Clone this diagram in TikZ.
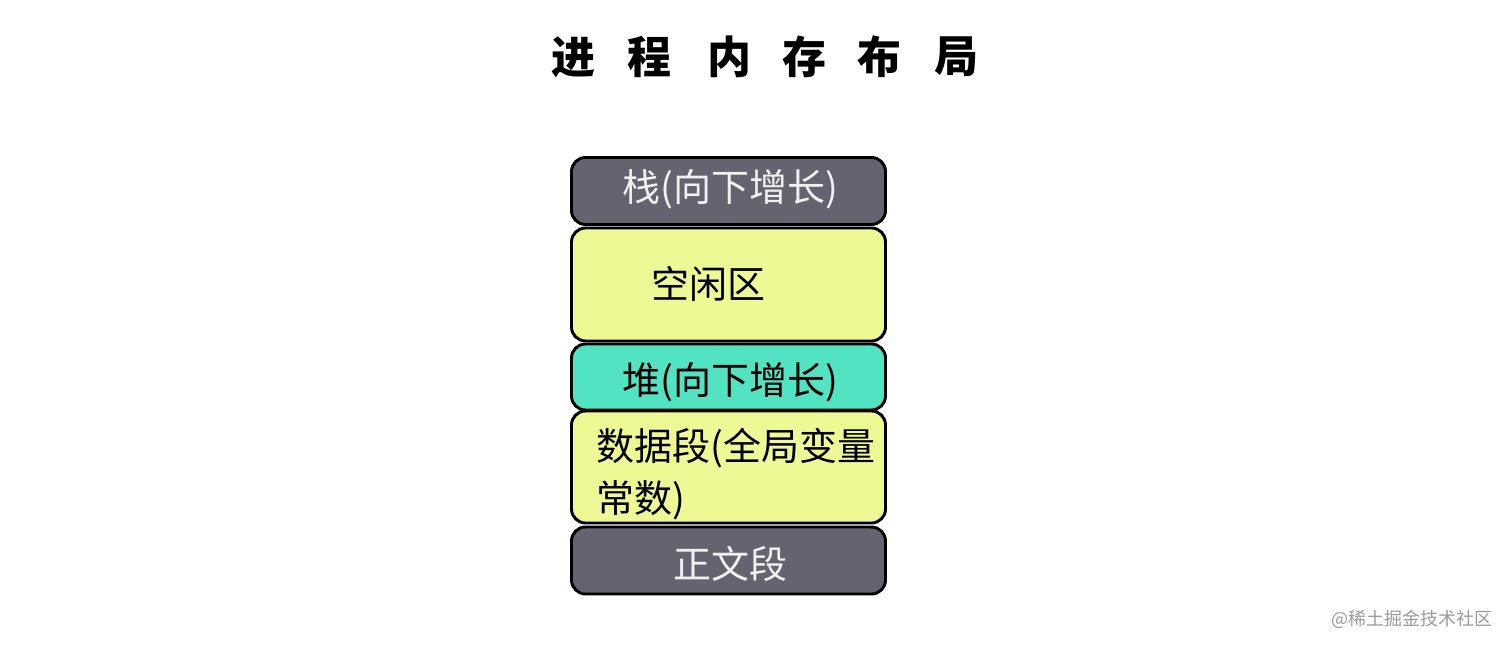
\documentclass[tikz,border=0pt]{standalone}
\usepackage{fontspec}
\newfontfamily\cjk{Noto Sans CJK SC}
\definecolor{segdark}{HTML}{65636F}
\definecolor{segyellow}{HTML}{EEF996}
\definecolor{segteal}{HTML}{52E3C3}
\definecolor{marktext}{HTML}{9A9A9A}
\begin{document}
\begin{tikzpicture}[x=0.75pt,y=-0.75pt,
  seg/.style={draw=black,line width=2.2pt,rounded corners=10.5pt,minimum width=314*0.75pt,inner sep=0pt},
  lbl/.style={font=\cjk\fontsize{28.5}{36}\selectfont,inner sep=0pt},
  titlechar/.style={font=\cjk\fontsize{33}{40}\selectfont\bfseries,inner sep=0pt}]
\useasboundingbox (0,0) rectangle (1512,648);
% title
\foreach \c/\x [count=\i] in {进/573,程/649,内/729,存/804,布/879,局/956}{
  \node[titlechar] (t\i) at (\x,57) {\c};
}
% segments
\node[seg,fill=segdark,minimum height=67*0.75pt] (stack) at (728.5,191) {};
\node[seg,fill=segyellow,minimum height=113*0.75pt] (free) at (728.5,284.5) {};
\node[seg,fill=segteal,minimum height=66*0.75pt] (heap) at (728.5,377) {};
\node[seg,fill=segyellow,minimum height=112*0.75pt] (data) at (728.5,467) {};
\node[seg,fill=segdark,minimum height=67*0.75pt] (text) at (728.5,560.5) {};
% labels
\node[lbl,text=white!94!black] (stacklbl) at (730,189) {栈(向下增长)};
\node[lbl] (freelbl) at (708,284) {空闲区};
\node[lbl] (heaplbl) at (730,382) {堆(向下增长)};
\node[lbl,anchor=west] (datalbl1) at (596,448) {数据段(全局变量};
\node[lbl,anchor=west] (datalbl2) at (596,500) {常数)};
\node[lbl,text=white!94!black] (textlbl) at (730,564) {正文段};
% watermark
\node[font=\cjk\fontsize{13.5}{16}\selectfont,text=marktext,anchor=east,inner sep=0pt] (mark) at (1493,619) {@稀土掘金技术社区};
\end{tikzpicture}
\end{document}
